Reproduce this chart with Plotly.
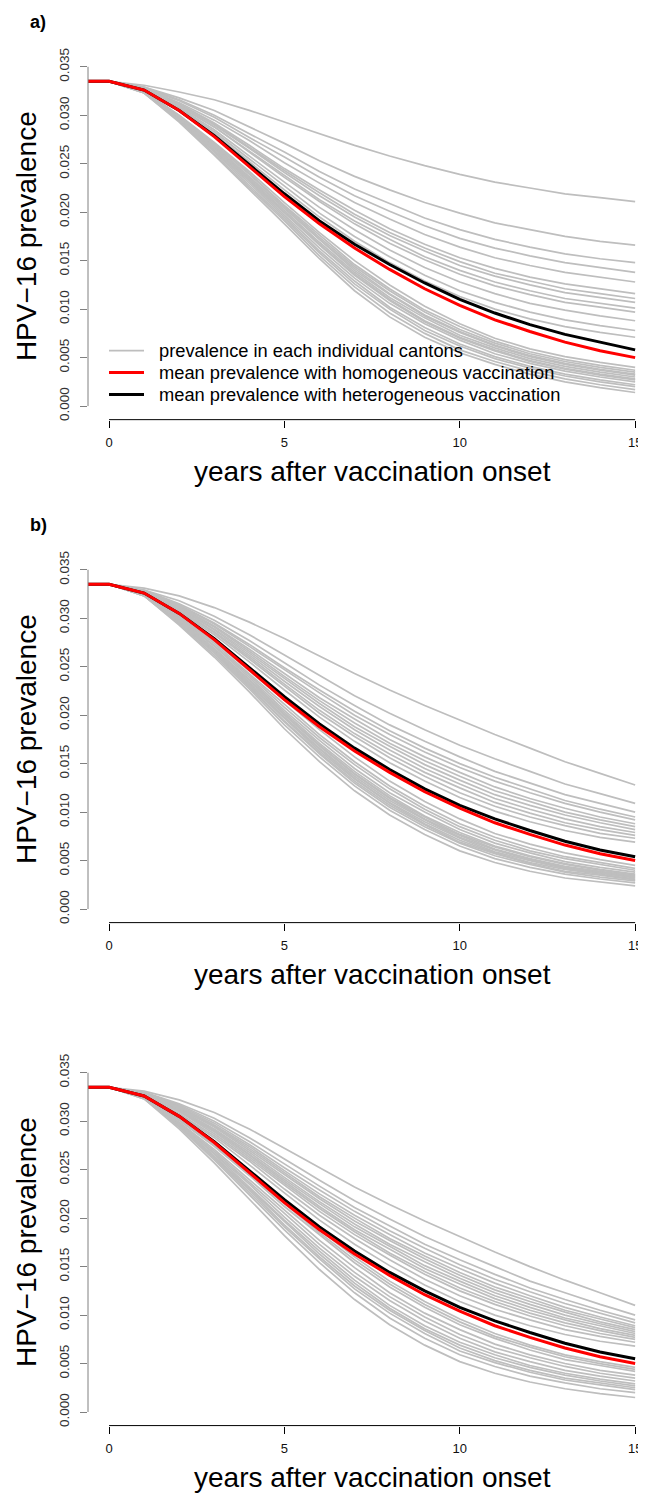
import plotly.graph_objects as go

# ---------------- data ----------------
years = [-1, 0, 1, 2, 3, 4, 5, 6, 7, 8, 9, 10, 11, 12, 13, 14, 15]

x_ticks = [0, 5, 10, 15]
x_tick_text = ["0", "5", "10", "15"]
y_ticks = [0.000, 0.005, 0.010, 0.015, 0.020, 0.025, 0.030, 0.035]
y_tick_text = ["0.000", "0.005", "0.010", "0.015", "0.020", "0.025", "0.030", "0.035"]

panel_labels = ["a)", "b)", ""]
y_title = "HPV\u221216 prevalence"
x_title = "years after vaccination onset"
legend_labels = ["prevalence in each individual cantons",
                 "mean prevalence with homogeneous vaccination",
                 "mean prevalence with heterogeneous vaccination"]

mean_homogeneous = [0.0335, 0.0335, 0.0326, 0.0305, 0.0278, 0.0247, 0.0216, 0.0188, 0.0163,
                    0.0141, 0.0121, 0.0104, 0.0089, 0.0077, 0.0066, 0.0057, 0.0050]

mean_heterogeneous_a = [0.0335, 0.0335, 0.0326, 0.0305, 0.0279, 0.0249, 0.0219, 0.0191, 0.0167,
                        0.0146, 0.0127, 0.0110, 0.0096, 0.0084, 0.0074, 0.0066, 0.0058]
mean_heterogeneous_b = [0.0335, 0.0335, 0.0326, 0.0305, 0.0279, 0.0249, 0.0219, 0.0191, 0.0166,
                        0.0144, 0.0124, 0.0107, 0.0093, 0.0081, 0.0070, 0.0061, 0.0054]
mean_heterogeneous_c = [0.0335, 0.0335, 0.0326, 0.0305, 0.0279, 0.0249, 0.0219, 0.0191, 0.0166,
                        0.0144, 0.0125, 0.0108, 0.0094, 0.0082, 0.0071, 0.0062, 0.0055]

cantons_a = [
    [0.0335, 0.0335, 0.0331, 0.0324, 0.0316, 0.0305, 0.0293, 0.0281, 0.0269, 0.0258, 0.0248, 0.0239, 0.0231, 0.0225, 0.0219, 0.0215, 0.0211],
    [0.0335, 0.0335, 0.0329, 0.0318, 0.0305, 0.0288, 0.0271, 0.0253, 0.0237, 0.0223, 0.0210, 0.0199, 0.0189, 0.0182, 0.0175, 0.0170, 0.0166],
    [0.0335, 0.0335, 0.0329, 0.0316, 0.0300, 0.0281, 0.0262, 0.0242, 0.0224, 0.0209, 0.0194, 0.0182, 0.0172, 0.0164, 0.0157, 0.0152, 0.0148],
    [0.0335, 0.0335, 0.0328, 0.0315, 0.0298, 0.0277, 0.0257, 0.0236, 0.0217, 0.0201, 0.0186, 0.0173, 0.0163, 0.0155, 0.0148, 0.0143, 0.0138],
    [0.0335, 0.0335, 0.0328, 0.0313, 0.0295, 0.0274, 0.0251, 0.0230, 0.0210, 0.0193, 0.0177, 0.0164, 0.0153, 0.0145, 0.0138, 0.0133, 0.0128],
    [0.0335, 0.0335, 0.0328, 0.0312, 0.0292, 0.0269, 0.0245, 0.0223, 0.0202, 0.0183, 0.0167, 0.0153, 0.0142, 0.0133, 0.0126, 0.0121, 0.0116],
    [0.0335, 0.0335, 0.0327, 0.0311, 0.0291, 0.0267, 0.0243, 0.0220, 0.0198, 0.0179, 0.0163, 0.0149, 0.0137, 0.0129, 0.0121, 0.0116, 0.0111],
    [0.0335, 0.0335, 0.0327, 0.0311, 0.0290, 0.0266, 0.0241, 0.0217, 0.0195, 0.0176, 0.0160, 0.0145, 0.0134, 0.0125, 0.0117, 0.0112, 0.0107],
    [0.0335, 0.0335, 0.0327, 0.0310, 0.0288, 0.0263, 0.0238, 0.0213, 0.0191, 0.0172, 0.0154, 0.0140, 0.0128, 0.0119, 0.0111, 0.0106, 0.0101],
    [0.0335, 0.0335, 0.0327, 0.0309, 0.0288, 0.0262, 0.0236, 0.0211, 0.0188, 0.0168, 0.0151, 0.0136, 0.0124, 0.0115, 0.0107, 0.0102, 0.0097],
    [0.0335, 0.0335, 0.0327, 0.0308, 0.0285, 0.0258, 0.0231, 0.0205, 0.0182, 0.0161, 0.0143, 0.0128, 0.0116, 0.0106, 0.0099, 0.0093, 0.0088],
    [0.0335, 0.0335, 0.0326, 0.0307, 0.0283, 0.0255, 0.0227, 0.0199, 0.0175, 0.0154, 0.0135, 0.0119, 0.0107, 0.0097, 0.0089, 0.0083, 0.0078],
    [0.0335, 0.0335, 0.0326, 0.0306, 0.0281, 0.0252, 0.0223, 0.0195, 0.0170, 0.0148, 0.0129, 0.0113, 0.0100, 0.0090, 0.0082, 0.0076, 0.0071],
    [0.0335, 0.0335, 0.0325, 0.0300, 0.0272, 0.0242, 0.0210, 0.0179, 0.0150, 0.0125, 0.0103, 0.0085, 0.0070, 0.0059, 0.0051, 0.0045, 0.0040],
    [0.0335, 0.0335, 0.0325, 0.0299, 0.0271, 0.0240, 0.0207, 0.0176, 0.0146, 0.0121, 0.0099, 0.0082, 0.0067, 0.0056, 0.0048, 0.0042, 0.0037],
    [0.0335, 0.0335, 0.0325, 0.0299, 0.0270, 0.0239, 0.0206, 0.0174, 0.0144, 0.0119, 0.0097, 0.0079, 0.0065, 0.0054, 0.0046, 0.0040, 0.0035],
    [0.0335, 0.0335, 0.0324, 0.0298, 0.0269, 0.0237, 0.0204, 0.0172, 0.0142, 0.0116, 0.0094, 0.0077, 0.0063, 0.0052, 0.0044, 0.0038, 0.0033],
    [0.0335, 0.0335, 0.0324, 0.0298, 0.0268, 0.0236, 0.0203, 0.0171, 0.0140, 0.0115, 0.0093, 0.0076, 0.0062, 0.0051, 0.0043, 0.0037, 0.0032],
    [0.0335, 0.0335, 0.0324, 0.0297, 0.0267, 0.0235, 0.0202, 0.0169, 0.0138, 0.0112, 0.0091, 0.0073, 0.0060, 0.0049, 0.0041, 0.0035, 0.0030],
    [0.0335, 0.0335, 0.0324, 0.0297, 0.0266, 0.0234, 0.0200, 0.0167, 0.0136, 0.0110, 0.0088, 0.0071, 0.0058, 0.0047, 0.0039, 0.0033, 0.0028],
    [0.0335, 0.0335, 0.0324, 0.0297, 0.0266, 0.0233, 0.0199, 0.0166, 0.0135, 0.0109, 0.0087, 0.0070, 0.0057, 0.0046, 0.0038, 0.0032, 0.0027],
    [0.0335, 0.0335, 0.0324, 0.0296, 0.0264, 0.0232, 0.0197, 0.0163, 0.0132, 0.0106, 0.0085, 0.0068, 0.0054, 0.0044, 0.0036, 0.0030, 0.0025],
    [0.0335, 0.0335, 0.0324, 0.0295, 0.0263, 0.0230, 0.0195, 0.0160, 0.0129, 0.0102, 0.0081, 0.0064, 0.0051, 0.0041, 0.0033, 0.0027, 0.0022],
    [0.0335, 0.0335, 0.0323, 0.0295, 0.0262, 0.0228, 0.0193, 0.0158, 0.0126, 0.0100, 0.0078, 0.0062, 0.0049, 0.0039, 0.0031, 0.0025, 0.0020],
    [0.0335, 0.0335, 0.0323, 0.0294, 0.0260, 0.0226, 0.0191, 0.0155, 0.0123, 0.0096, 0.0075, 0.0058, 0.0046, 0.0036, 0.0028, 0.0022, 0.0017],
    [0.0335, 0.0335, 0.0323, 0.0293, 0.0259, 0.0224, 0.0188, 0.0152, 0.0119, 0.0092, 0.0071, 0.0055, 0.0043, 0.0033, 0.0025, 0.0019, 0.0014],
]

cantons_b = [
    [0.0335, 0.0335, 0.0331, 0.0323, 0.0311, 0.0296, 0.0279, 0.0261, 0.0243, 0.0226, 0.0210, 0.0195, 0.0180, 0.0166, 0.0152, 0.0140, 0.0128],
    [0.0335, 0.0335, 0.0329, 0.0318, 0.0302, 0.0283, 0.0262, 0.0241, 0.0220, 0.0202, 0.0185, 0.0169, 0.0155, 0.0142, 0.0129, 0.0119, 0.0109],
    [0.0335, 0.0335, 0.0329, 0.0315, 0.0298, 0.0277, 0.0254, 0.0231, 0.0210, 0.0190, 0.0173, 0.0157, 0.0142, 0.0130, 0.0118, 0.0109, 0.0100],
    [0.0335, 0.0335, 0.0328, 0.0314, 0.0295, 0.0273, 0.0249, 0.0226, 0.0204, 0.0184, 0.0166, 0.0150, 0.0136, 0.0124, 0.0112, 0.0103, 0.0095],
    [0.0335, 0.0335, 0.0328, 0.0313, 0.0294, 0.0271, 0.0247, 0.0223, 0.0200, 0.0180, 0.0162, 0.0146, 0.0132, 0.0120, 0.0109, 0.0100, 0.0092],
    [0.0335, 0.0335, 0.0328, 0.0312, 0.0292, 0.0268, 0.0243, 0.0218, 0.0196, 0.0175, 0.0157, 0.0141, 0.0126, 0.0114, 0.0104, 0.0095, 0.0088],
    [0.0335, 0.0335, 0.0327, 0.0311, 0.0291, 0.0266, 0.0240, 0.0215, 0.0192, 0.0171, 0.0153, 0.0137, 0.0122, 0.0111, 0.0100, 0.0092, 0.0085],
    [0.0335, 0.0335, 0.0327, 0.0311, 0.0289, 0.0264, 0.0238, 0.0212, 0.0188, 0.0168, 0.0149, 0.0133, 0.0118, 0.0107, 0.0097, 0.0089, 0.0082],
    [0.0335, 0.0335, 0.0327, 0.0310, 0.0288, 0.0262, 0.0235, 0.0209, 0.0185, 0.0164, 0.0145, 0.0129, 0.0114, 0.0103, 0.0093, 0.0085, 0.0079],
    [0.0335, 0.0335, 0.0327, 0.0309, 0.0286, 0.0260, 0.0232, 0.0205, 0.0181, 0.0160, 0.0141, 0.0125, 0.0110, 0.0099, 0.0089, 0.0082, 0.0076],
    [0.0335, 0.0335, 0.0326, 0.0308, 0.0285, 0.0258, 0.0230, 0.0202, 0.0178, 0.0156, 0.0137, 0.0120, 0.0106, 0.0095, 0.0086, 0.0078, 0.0073],
    [0.0335, 0.0335, 0.0326, 0.0307, 0.0283, 0.0255, 0.0226, 0.0198, 0.0173, 0.0151, 0.0132, 0.0115, 0.0101, 0.0090, 0.0081, 0.0074, 0.0069],
    [0.0335, 0.0335, 0.0325, 0.0302, 0.0276, 0.0246, 0.0215, 0.0185, 0.0157, 0.0132, 0.0111, 0.0093, 0.0078, 0.0067, 0.0058, 0.0051, 0.0045],
    [0.0335, 0.0335, 0.0325, 0.0301, 0.0274, 0.0243, 0.0211, 0.0180, 0.0152, 0.0127, 0.0106, 0.0088, 0.0074, 0.0063, 0.0054, 0.0048, 0.0042],
    [0.0335, 0.0335, 0.0325, 0.0300, 0.0272, 0.0241, 0.0208, 0.0177, 0.0149, 0.0124, 0.0103, 0.0085, 0.0071, 0.0060, 0.0052, 0.0046, 0.0040],
    [0.0335, 0.0335, 0.0324, 0.0299, 0.0271, 0.0239, 0.0205, 0.0174, 0.0145, 0.0120, 0.0100, 0.0082, 0.0068, 0.0058, 0.0049, 0.0043, 0.0038],
    [0.0335, 0.0335, 0.0324, 0.0298, 0.0269, 0.0237, 0.0203, 0.0171, 0.0142, 0.0117, 0.0096, 0.0079, 0.0065, 0.0055, 0.0047, 0.0041, 0.0036],
    [0.0335, 0.0335, 0.0324, 0.0298, 0.0268, 0.0236, 0.0201, 0.0169, 0.0140, 0.0115, 0.0095, 0.0077, 0.0064, 0.0054, 0.0046, 0.0040, 0.0035],
    [0.0335, 0.0335, 0.0324, 0.0297, 0.0268, 0.0234, 0.0200, 0.0168, 0.0139, 0.0114, 0.0093, 0.0076, 0.0062, 0.0052, 0.0044, 0.0039, 0.0034],
    [0.0335, 0.0335, 0.0324, 0.0297, 0.0267, 0.0233, 0.0198, 0.0166, 0.0137, 0.0112, 0.0092, 0.0074, 0.0061, 0.0051, 0.0043, 0.0038, 0.0033],
    [0.0335, 0.0335, 0.0324, 0.0296, 0.0266, 0.0232, 0.0197, 0.0165, 0.0135, 0.0110, 0.0090, 0.0073, 0.0059, 0.0050, 0.0042, 0.0037, 0.0032],
    [0.0335, 0.0335, 0.0324, 0.0296, 0.0265, 0.0231, 0.0196, 0.0163, 0.0134, 0.0109, 0.0088, 0.0071, 0.0058, 0.0048, 0.0041, 0.0036, 0.0031],
    [0.0335, 0.0335, 0.0324, 0.0296, 0.0265, 0.0230, 0.0194, 0.0161, 0.0132, 0.0107, 0.0087, 0.0069, 0.0057, 0.0047, 0.0039, 0.0035, 0.0030],
    [0.0335, 0.0335, 0.0323, 0.0295, 0.0264, 0.0229, 0.0193, 0.0160, 0.0130, 0.0105, 0.0085, 0.0068, 0.0055, 0.0046, 0.0038, 0.0033, 0.0029],
    [0.0335, 0.0335, 0.0323, 0.0294, 0.0262, 0.0227, 0.0190, 0.0157, 0.0127, 0.0102, 0.0082, 0.0065, 0.0052, 0.0043, 0.0036, 0.0031, 0.0027],
    [0.0335, 0.0335, 0.0323, 0.0293, 0.0260, 0.0224, 0.0186, 0.0152, 0.0122, 0.0097, 0.0077, 0.0060, 0.0048, 0.0039, 0.0032, 0.0028, 0.0024],
]

cantons_c = [
    [0.0335, 0.0335, 0.0331, 0.0322, 0.0309, 0.0292, 0.0272, 0.0252, 0.0232, 0.0214, 0.0197, 0.0181, 0.0165, 0.0150, 0.0136, 0.0123, 0.0110],
    [0.0335, 0.0335, 0.0330, 0.0318, 0.0303, 0.0283, 0.0261, 0.0239, 0.0218, 0.0199, 0.0181, 0.0165, 0.0150, 0.0135, 0.0123, 0.0111, 0.0100],
    [0.0335, 0.0335, 0.0329, 0.0317, 0.0300, 0.0279, 0.0256, 0.0233, 0.0211, 0.0192, 0.0173, 0.0157, 0.0142, 0.0128, 0.0116, 0.0105, 0.0095],
    [0.0335, 0.0335, 0.0329, 0.0316, 0.0298, 0.0276, 0.0252, 0.0229, 0.0207, 0.0187, 0.0169, 0.0152, 0.0137, 0.0124, 0.0112, 0.0102, 0.0092],
    [0.0335, 0.0335, 0.0329, 0.0315, 0.0296, 0.0274, 0.0249, 0.0225, 0.0203, 0.0183, 0.0164, 0.0148, 0.0133, 0.0120, 0.0108, 0.0098, 0.0089],
    [0.0335, 0.0335, 0.0328, 0.0314, 0.0295, 0.0272, 0.0247, 0.0222, 0.0200, 0.0179, 0.0161, 0.0144, 0.0129, 0.0117, 0.0105, 0.0096, 0.0087],
    [0.0335, 0.0335, 0.0328, 0.0313, 0.0294, 0.0270, 0.0245, 0.0220, 0.0197, 0.0177, 0.0158, 0.0141, 0.0126, 0.0114, 0.0103, 0.0093, 0.0085],
    [0.0335, 0.0335, 0.0328, 0.0312, 0.0292, 0.0268, 0.0242, 0.0217, 0.0194, 0.0173, 0.0155, 0.0138, 0.0123, 0.0111, 0.0100, 0.0091, 0.0083],
    [0.0335, 0.0335, 0.0328, 0.0312, 0.0291, 0.0266, 0.0240, 0.0215, 0.0191, 0.0171, 0.0151, 0.0135, 0.0120, 0.0108, 0.0097, 0.0089, 0.0081],
    [0.0335, 0.0335, 0.0327, 0.0311, 0.0290, 0.0265, 0.0238, 0.0212, 0.0188, 0.0168, 0.0148, 0.0132, 0.0117, 0.0105, 0.0095, 0.0086, 0.0079],
    [0.0335, 0.0335, 0.0327, 0.0310, 0.0289, 0.0263, 0.0236, 0.0210, 0.0186, 0.0164, 0.0145, 0.0128, 0.0114, 0.0102, 0.0092, 0.0084, 0.0077],
    [0.0335, 0.0335, 0.0327, 0.0310, 0.0287, 0.0261, 0.0234, 0.0207, 0.0183, 0.0162, 0.0142, 0.0125, 0.0111, 0.0099, 0.0089, 0.0081, 0.0075],
    [0.0335, 0.0335, 0.0326, 0.0308, 0.0285, 0.0259, 0.0230, 0.0203, 0.0179, 0.0157, 0.0137, 0.0120, 0.0106, 0.0095, 0.0085, 0.0078, 0.0072],
    [0.0335, 0.0335, 0.0326, 0.0307, 0.0283, 0.0255, 0.0226, 0.0198, 0.0173, 0.0151, 0.0131, 0.0114, 0.0100, 0.0089, 0.0080, 0.0073, 0.0068],
    [0.0335, 0.0335, 0.0325, 0.0302, 0.0276, 0.0247, 0.0217, 0.0188, 0.0160, 0.0135, 0.0114, 0.0096, 0.0081, 0.0069, 0.0059, 0.0052, 0.0046],
    [0.0335, 0.0335, 0.0325, 0.0301, 0.0275, 0.0245, 0.0215, 0.0185, 0.0157, 0.0132, 0.0111, 0.0093, 0.0078, 0.0067, 0.0057, 0.0050, 0.0044],
    [0.0335, 0.0335, 0.0325, 0.0301, 0.0274, 0.0244, 0.0212, 0.0183, 0.0154, 0.0129, 0.0108, 0.0090, 0.0076, 0.0064, 0.0054, 0.0048, 0.0042],
    [0.0335, 0.0335, 0.0324, 0.0299, 0.0271, 0.0240, 0.0208, 0.0177, 0.0149, 0.0123, 0.0102, 0.0085, 0.0070, 0.0059, 0.0050, 0.0043, 0.0038],
    [0.0335, 0.0335, 0.0324, 0.0298, 0.0269, 0.0237, 0.0205, 0.0173, 0.0144, 0.0119, 0.0098, 0.0080, 0.0066, 0.0056, 0.0047, 0.0040, 0.0035],
    [0.0335, 0.0335, 0.0324, 0.0297, 0.0267, 0.0235, 0.0201, 0.0169, 0.0140, 0.0115, 0.0094, 0.0076, 0.0062, 0.0052, 0.0043, 0.0037, 0.0032],
    [0.0335, 0.0335, 0.0324, 0.0297, 0.0266, 0.0232, 0.0198, 0.0166, 0.0136, 0.0110, 0.0089, 0.0072, 0.0059, 0.0048, 0.0040, 0.0034, 0.0029],
    [0.0335, 0.0335, 0.0324, 0.0296, 0.0264, 0.0230, 0.0196, 0.0163, 0.0133, 0.0107, 0.0086, 0.0069, 0.0056, 0.0046, 0.0038, 0.0032, 0.0027],
    [0.0335, 0.0335, 0.0324, 0.0295, 0.0263, 0.0229, 0.0193, 0.0160, 0.0130, 0.0105, 0.0084, 0.0066, 0.0053, 0.0043, 0.0035, 0.0030, 0.0025],
    [0.0335, 0.0335, 0.0324, 0.0295, 0.0262, 0.0227, 0.0191, 0.0158, 0.0127, 0.0102, 0.0081, 0.0063, 0.0051, 0.0041, 0.0033, 0.0028, 0.0023],
    [0.0335, 0.0335, 0.0323, 0.0294, 0.0260, 0.0224, 0.0188, 0.0154, 0.0123, 0.0097, 0.0076, 0.0059, 0.0047, 0.0037, 0.0030, 0.0024, 0.0020],
    [0.0335, 0.0335, 0.0323, 0.0292, 0.0257, 0.0220, 0.0182, 0.0147, 0.0116, 0.0090, 0.0069, 0.0052, 0.0040, 0.0031, 0.0024, 0.0019, 0.0015],
]

panels = [
    (cantons_a, mean_heterogeneous_a),
    (cantons_b, mean_heterogeneous_b),
    (cantons_c, mean_heterogeneous_c),
]

# ---------------- styling / geometry ----------------
# The page body has an 8 px margin; positions below are given in page (screenshot)
# pixels and converted to figure-paper fractions.
PAGE_W, PAGE_H = 646, 1496
BODY = 8
W, H = PAGE_W - BODY, PAGE_H - BODY
GRAY, RED, BLACK = "#BEBEBE", "#FF0000", "#000000"
FONT = "Liberation Sans, Arial, Helvetica, sans-serif"
panel_step = 505
plot_left_px = 88
plot_top_px = 48.4
plot_bottom_px = 416.3
x_range = [-0.6, 15.31]
y_range = [-0.0014, 0.0364]


def px_x(p):
    return (p - BODY) / W


def px_y(p):
    return 1 - (p - BODY) / H


fig = go.Figure()
shapes = []
annotations = []
layout_axes = {}

for k, (cantons, hetero) in enumerate(panels):
    idx = "" if k == 0 else str(k + 1)
    xa, ya = "x" + idx, "y" + idx
    off = panel_step * k

    for series in cantons:
        fig.add_trace(go.Scatter(x=years, y=series, mode="lines", xaxis=xa, yaxis=ya,
                                 line=dict(color=GRAY, width=1.7), showlegend=False,
                                 hoverinfo="skip"))
    fig.add_trace(go.Scatter(x=years, y=hetero, mode="lines", xaxis=xa, yaxis=ya,
                             line=dict(color=BLACK, width=3), showlegend=False))
    fig.add_trace(go.Scatter(x=years, y=mean_homogeneous, mode="lines", xaxis=xa, yaxis=ya,
                             line=dict(color=RED, width=3), showlegend=False))

    layout_axes["xaxis" + idx] = dict(
        domain=[px_x(plot_left_px), 1.0], range=x_range, anchor=ya,
        showgrid=False, zeroline=False, showline=False,
        tickmode="array", tickvals=x_ticks, ticktext=x_tick_text,
        ticks="outside", ticklen=7, tickwidth=1, tickcolor="#000000",
        tickfont=dict(family=FONT, size=13, color="#111111"),
        ticklabelstandoff=4,
    )
    layout_axes["yaxis" + idx] = dict(
        domain=[px_y(plot_bottom_px + off), px_y(plot_top_px + off)], range=y_range, anchor=xa,
        showgrid=False, zeroline=False, showline=False,
        tickmode="array", tickvals=y_ticks, ticktext=y_tick_text, tickangle=-90,
        ticks="outside", ticklen=7, tickwidth=1, tickcolor="#808080",
        tickfont=dict(family=FONT, size=13.5, color="#333333"),
        ticklabelstandoff=6,
    )

    # R-style axis lines spanning only the tick range
    shapes.append(dict(type="line", xref=xa + " domain", yref=ya, x0=0, x1=0,
                       y0=y_ticks[0], y1=y_ticks[-1], line=dict(color="#808080", width=1)))
    shapes.append(dict(type="line", xref=xa, yref=ya + " domain", x0=x_ticks[0], x1=x_ticks[-1],
                       y0=0, y1=0, line=dict(color="#000000", width=1)))

    # axis titles
    annotations.append(dict(text=y_title, xref="paper", yref="paper", x=px_x(26),
                            y=px_y(232 + off), textangle=-90, showarrow=False,
                            xanchor="center", yanchor="middle",
                            font=dict(family=FONT, size=28, color="#000000")))
    annotations.append(dict(text=x_title, xref="paper", yref="paper", x=px_x(372),
                            y=px_y(468 + off), showarrow=False,
                            xanchor="center", yanchor="middle",
                            font=dict(family=FONT, size=28, color="#000000")))
    if panel_labels[k]:
        annotations.append(dict(text="<b>" + panel_labels[k] + "</b>", xref="paper", yref="paper",
                                x=px_x(38), y=px_y(17 + off), showarrow=False,
                                xanchor="center", yanchor="middle",
                                font=dict(family=FONT, size=18, color="#000000")))

# legend of panel a (drawn as lines + text)
legend_colors = [GRAY, RED, BLACK]
legend_widths = [1.7, 3, 3]
legend_rows_px = [347, 369, 391]
for lab, col, wd, ry in zip(legend_labels, legend_colors, legend_widths, legend_rows_px):
    shapes.append(dict(type="line", xref="paper", yref="paper", x0=px_x(109), x1=px_x(144),
                       y0=px_y(ry), y1=px_y(ry), line=dict(color=col, width=wd)))
    annotations.append(dict(text=lab, xref="paper", yref="paper", x=px_x(157), y=px_y(ry),
                            showarrow=False, xanchor="left", yanchor="middle",
                            font=dict(family=FONT, size=18.3, color="#000000")))

fig.update_layout(
    width=W, height=H, margin=dict(l=0, r=0, t=0, b=0),
    paper_bgcolor="white", plot_bgcolor="white",
    shapes=shapes, annotations=annotations, showlegend=False,
    **layout_axes,
)

fig.write_html("out.html")
